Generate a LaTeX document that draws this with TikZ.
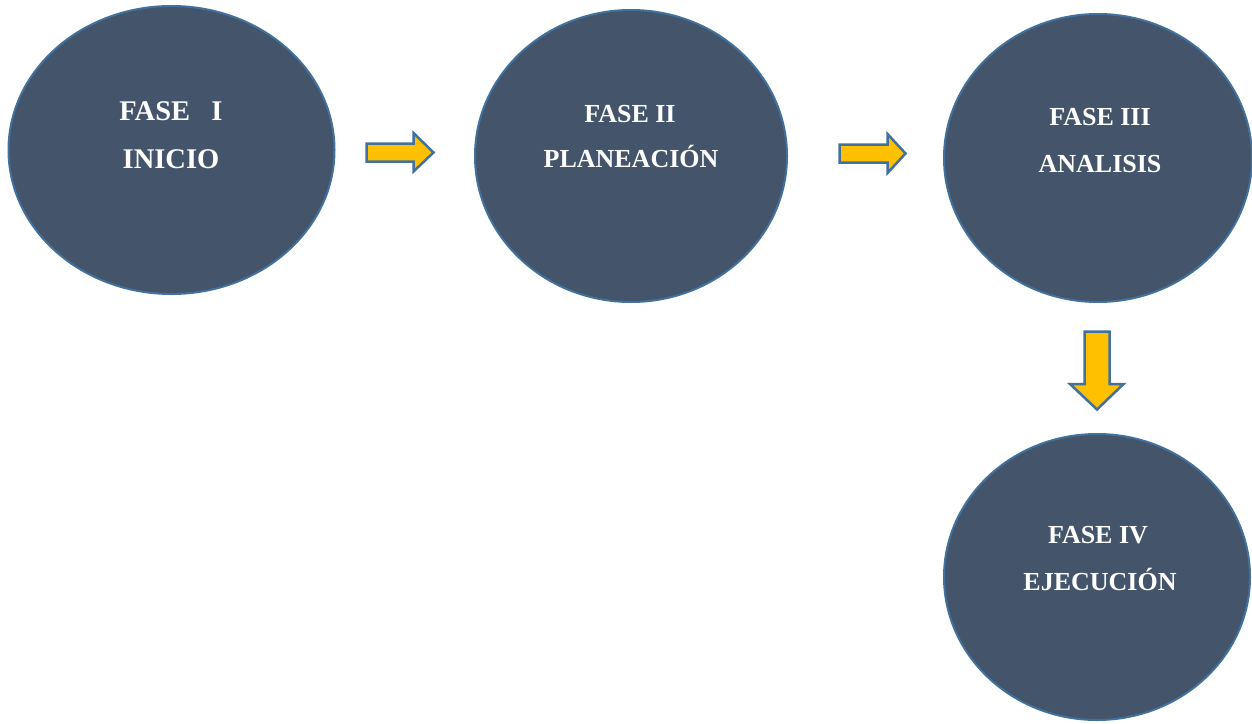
\documentclass[tikz,border=0pt]{standalone}
\usepackage{fontspec}
\setmainfont{Liberation Serif}
\usetikzlibrary{shapes.geometric}
\definecolor{phasefill}{HTML}{44546A}
\definecolor{phaseline}{HTML}{41719C}
\definecolor{arrowfill}{HTML}{FFC000}
\tikzset{
  phase/.style={ellipse, draw=phaseline, line width=2pt, fill=phasefill, inner sep=0pt},
  phasetext/.style={anchor=base, text=white, inner sep=0pt, font=\fontsize{26}{26}\selectfont\bfseries},
  phasetextbig/.style={phasetext, font=\fontsize{28.5}{28.5}\selectfont\bfseries},
  blockarrow/.style={draw=phaseline, line width=2.5pt, fill=arrowfill, line join=miter}
}
\begin{document}
\begin{tikzpicture}[x=1pt, y=-1pt]
\useasboundingbox (0,0) rectangle (1252,723);

% phase ellipses
\node[phase, minimum width=326pt, minimum height=288pt] (f1) at (171.5,150) {};
\node[phase, minimum width=312pt, minimum height=292pt] (f2) at (631,156) {};
\node[phase, minimum width=308pt, minimum height=288pt] (f3) at (1098,158) {};
\node[phase, minimum width=306pt, minimum height=286pt] (f4) at (1097,577) {};

% labels
\node[phasetextbig] (f1a) at (171,120) {FASE~~~I};
\node[phasetextbig] (f1b) at (171,168) {INICIO};
\node[phasetext] (f2a) at (630,122) {FASE II};
\node[phasetext] (f2b) at (631,167) {PLANEACIÓN};
\node[phasetext] (f3a) at (1100,125) {FASE III};
\node[phasetext] (f3b) at (1100,172) {ANALISIS};
\node[phasetext] (f4a) at (1098,543) {FASE IV};
\node[phasetext] (f4b) at (1100,590) {EJECUCIÓN};

% block arrows between phases
\draw[blockarrow] (366.5,143.5) -- (413.5,143.5) -- (413.5,133) -- (433.5,152.5)
  -- (413.5,171.5) -- (413.5,161.5) -- (366.5,161.5) -- cycle;
\draw[blockarrow] (839.5,144.5) -- (887.5,144.5) -- (887.5,134) -- (905.5,153.5)
  -- (887.5,173) -- (887.5,162.5) -- (839.5,162.5) -- cycle;
\draw[blockarrow] (1084.5,331.5) -- (1109.5,331.5) -- (1109.5,384) -- (1123.5,384)
  -- (1097,409.5) -- (1070,384) -- (1084.5,384) -- cycle;
\end{tikzpicture}
\end{document}
